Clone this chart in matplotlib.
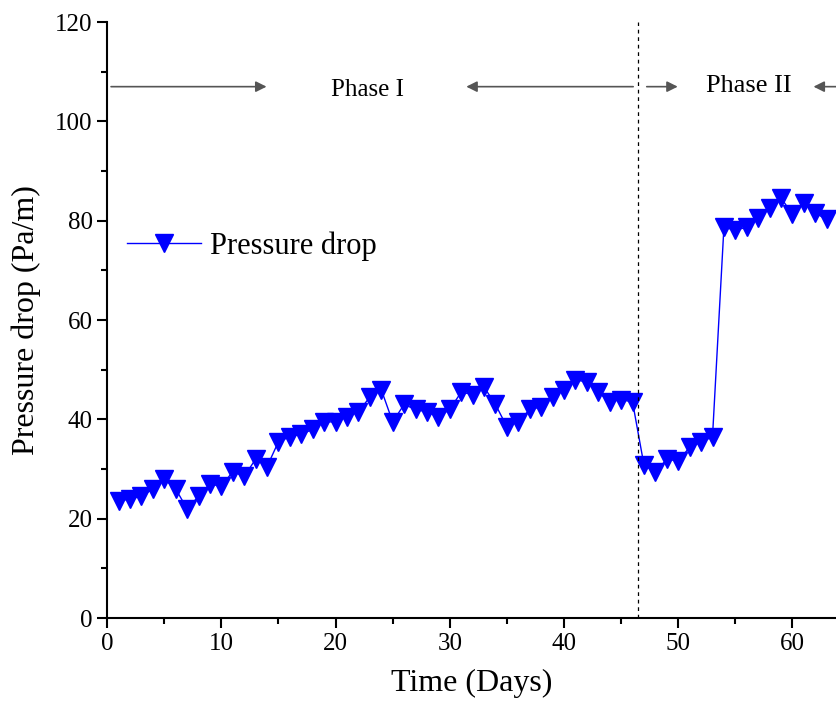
import matplotlib
matplotlib.use("Agg")
import matplotlib.pyplot as plt
from matplotlib.ticker import MultipleLocator

plt.rcParams["font.family"] = ["Liberation Serif", "DejaVu Serif"]

# %% data
days = list(range(1, 64))
pressure_drop = [
    23.5, 24.0, 24.5, 26.0, 28.0, 26.0, 22.0, 24.5, 27.0, 26.5,
    29.5, 28.5, 32.0, 30.5, 35.5, 36.5, 37.0, 38.0, 39.5, 39.5,
    40.5, 41.5, 44.5, 46.0, 39.5, 43.0, 42.0, 41.5, 40.5, 42.0,
    45.5, 45.0, 46.5, 43.0, 38.5, 39.5, 42.0, 42.5, 44.5, 46.0,
    48.0, 47.5, 45.5, 43.5, 44.0, 43.5, 30.8, 29.4, 32.0, 31.6,
    34.4, 35.4, 36.5, 78.7, 78.1, 78.7, 80.5, 82.5, 84.6, 81.3,
    83.6, 81.5, 80.3,
]
phase_split = 46.5
phase_labels = ["Phase I", "Phase II"]

# %% plot
fig = plt.figure(figsize=(8.37, 7.13), dpi=100)
ax = fig.add_axes([0.128, 0.1332, 0.872, 0.8358])

ax.plot(days, pressure_drop, color="blue", lw=1, marker="v", ms=13,
        mfc="blue", mec="blue", label="Pressure drop")

ax.axvline(phase_split, color="black", lw=0.9, ls=(0, (3, 3)))

# phase arrows
arr = dict(arrowstyle="-|>", color="#555555", lw=1.2, mutation_scale=16)
y_arr = 107
ax.annotate("", xy=(14.2, y_arr), xytext=(0.1, y_arr), arrowprops=arr)
ax.annotate("", xy=(31.2, y_arr), xytext=(46.3, y_arr), arrowprops=arr)
ax.annotate("", xy=(50.2, y_arr), xytext=(47.0, y_arr), arrowprops=arr)
ax.annotate("", xy=(61.6, y_arr), xytext=(66, y_arr), arrowprops=arr,
            annotation_clip=False)
ax.text(22.8, 106.3, phase_labels[0], ha="center", va="center", fontsize=18)
ax.text(56.2, 107.2, phase_labels[1], ha="center", va="center", fontsize=19)

ax.set_xlim(0, 63.9)
ax.set_ylim(0, 120)
ax.xaxis.set_major_locator(MultipleLocator(10))
ax.xaxis.set_minor_locator(MultipleLocator(5))
ax.yaxis.set_major_locator(MultipleLocator(20))
ax.yaxis.set_minor_locator(MultipleLocator(10))
ax.tick_params(which="major", direction="out", length=7, width=1.5, labelsize=18)
ax.tick_params(which="minor", direction="out", length=4, width=1.5)
for s in ["top", "right"]:
    ax.spines[s].set_visible(False)
for s in ["left", "bottom"]:
    ax.spines[s].set_linewidth(1.5)

ax.set_xlabel("Time (Days)", fontsize=23, labelpad=10)
ax.set_ylabel("Pressure drop (Pa/m)", fontsize=23, labelpad=10)

ax.legend(loc="upper left", bbox_to_anchor=(-0.01, 0.695), frameon=False,
          fontsize=22, handlelength=2.4, handletextpad=0.3)

plt.savefig("out.png", dpi=100)
